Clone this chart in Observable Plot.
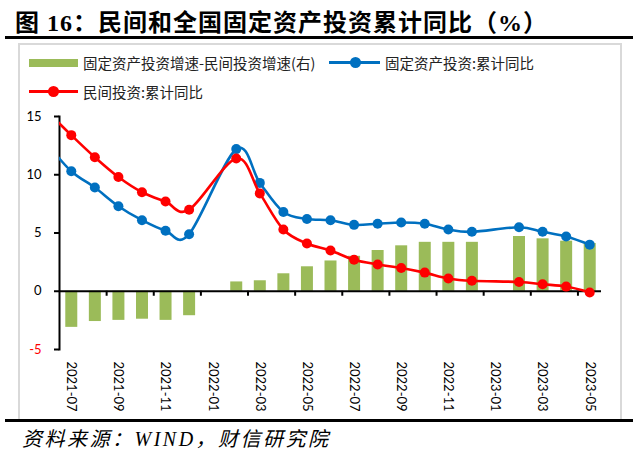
<!DOCTYPE html>
<html>
<head>
<meta charset="utf-8">
<script src="https://cdn.jsdelivr.net/npm/d3@7"></script>
<script src="https://cdn.jsdelivr.net/npm/@observablehq/plot@0.6"></script>
<style>
  html, body { margin: 0; padding: 0; background: #fff; }
  #wrap { position: relative; width: 640px; height: 451px; overflow: hidden; background: #fff; }
  .abs { position: absolute; }
  #title { left: 15px; top: 3px; font: bold 24px "Liberation Serif", "Noto Sans CJK SC", serif; color: #000; white-space: nowrap; letter-spacing: 1px; }
  .rule { background: #000; }
  #frame { left: 18px; top: 43px; width: 600px; height: 374px; border: 2px solid #d9d9d9; }
  .lg { font: 14.5px "Noto Sans CJK SC", sans-serif; color: #222; white-space: nowrap; line-height: 18px; }
  #caption { left: 22px; top: 423px; font: italic 20px "Liberation Serif", "Noto Sans CJK SC", serif; color: #000; white-space: nowrap; letter-spacing: 2.5px; }
  #chart { left: 0; top: 0; }
</style>
</head>
<body>
<div id="wrap">
  <div id="title" class="abs">图 16：民间和全国固定资产投资累计同比（%）</div>
  <div class="abs rule" style="left:5px;top:36px;width:628px;height:3px;"></div>
  <div id="frame" class="abs"></div>
  <div class="abs rule" style="left:5px;top:419px;width:628px;height:3px;"></div>
  <div id="caption" class="abs">资料来源：WIND，财信研究院</div>

  <div class="abs" style="left:29px;top:59px;width:49px;height:8px;background:#9BBB59;"></div>
  <div class="abs lg" style="left:83px;top:54px;">固定资产投资增速-民间投资增速(右)</div>

  <div class="abs" style="left:329px;top:61px;width:51px;height:3px;background:#0070C0;"></div>
  <div class="abs" style="left:350px;top:57px;width:11px;height:11px;border-radius:50%;background:#0070C0;"></div>
  <div class="abs lg" style="left:385px;top:54px;">固定资产投资:累计同比</div>

  <div class="abs" style="left:29px;top:90px;width:49px;height:3px;background:#FF0000;"></div>
  <div class="abs" style="left:48px;top:86px;width:11px;height:11px;border-radius:50%;background:#FF0000;"></div>
  <div class="abs lg" style="left:83px;top:83px;">民间投资:累计同比</div>

  <div id="chart" class="abs"></div>
</div>
<script>
// ---- data ----
const months = ["2021-06","2021-07","2021-08","2021-09","2021-10","2021-11","2021-12",
                "2022-01","2022-02","2022-03","2022-04","2022-05","2022-06","2022-07",
                "2022-08","2022-09","2022-10","2022-11","2022-12","2023-01","2023-02",
                "2023-03","2023-04","2023-05"];
const faiYoY     = [12.6, 10.3, 8.9, 7.3, 6.1, 5.2, 4.9, null, 12.2, 9.3, 6.8, 6.2, 6.1, 5.7, 5.8, 5.9, 5.8, 5.3, 5.1, null, 5.5, 5.1, 4.7, 4.0];
const privateYoY = [15.4, 13.4, 11.5, 9.8, 8.5, 7.7, 7.0, null, 11.4, 8.4, 5.3, 4.1, 3.5, 2.7, 2.3, 2.0, 1.6, 1.1, 0.9, null, 0.8, 0.6, 0.4, -0.1];
const gapBars    = [null, -3.1, -2.6, -2.5, -2.4, -2.5, -2.1, null, 0.8, 0.9, 1.5, 2.1, 2.6, 3.0, 3.5, 3.9, 4.2, 4.2, 4.2, null, 4.7, 4.5, 4.3, 4.1];
const xTickLabels = ["2021-07","2021-09","2021-11","2022-01","2022-03","2022-05",
                     "2022-07","2022-09","2022-11","2023-01","2023-03","2023-05"];
const yTicks = [-5, 0, 5, 10, 15];

const firstShown = months.indexOf("2021-07");
const lastShown = months.indexOf("2023-05");

const toRows = arr => arr.map((v, i) => ({i, m: months[i], v})).filter(d => d.v != null);
const faiRows = toRows(faiYoY);
const privRows = toRows(privateYoY);
const barRows = toRows(gapBars);
const labelRows = xTickLabels.map(m => ({m, i: months.indexOf(m)}));
const boundaryTicks = labelRows.slice(0, -1).map(d => d.i + 1.5);

const green = "#9BBB59", blue = "#0070C0", red = "#FF0000";
const font = "Lato, 'Open Sans', sans-serif";

const chart = Plot.plot({
  width: 640,
  height: 451,
  marginLeft: 59,
  marginRight: 39,
  marginTop: 116,
  marginBottom: 102,
  style: {background: "transparent", fontFamily: font},
  x: {type: "linear", domain: [firstShown - 0.5, lastShown + 0.5], axis: null},
  y: {domain: [-5, 15], axis: null},
  marks: [
    Plot.ruleX(barRows.filter(d => d.i >= firstShown), {x: "i", y1: 0, y2: "v", stroke: green, strokeWidth: 12}),
    Plot.ruleY([0], {stroke: "#000", strokeWidth: 2}),
    Plot.ruleX(boundaryTicks, {x: d => d, y1: 0, y2: 0, insetBottom: -5, stroke: "#000", strokeWidth: 2}),
    Plot.frame({anchor: "left", stroke: "#000", strokeWidth: 2}),
    Plot.ruleY(yTicks, {y: d => d, x1: firstShown - 0.5, x2: firstShown - 0.5, insetLeft: -5, stroke: "#000", strokeWidth: 2}),
    Plot.text(yTicks, {y: d => d, frameAnchor: "left", dx: -18, textAnchor: "end", text: d => String(d),
      fill: d => d < 0 ? red : "#000", fontSize: 13}),
    Plot.text(labelRows, {x: "i", frameAnchor: "bottom", dy: 12, rotate: 90, textAnchor: "start",
      lineAnchor: "middle", text: "m", fill: "#000", fontSize: 13}),
    Plot.line(faiRows, {x: "i", y: "v", stroke: blue, strokeWidth: 2.6, curve: "cardinal", clip: true}),
    Plot.dot(faiRows.filter(d => d.i >= firstShown), {x: "i", y: "v", r: 5, fill: blue}),
    Plot.line(privRows, {x: "i", y: "v", stroke: red, strokeWidth: 2.6, curve: "cardinal", clip: true}),
    Plot.dot(privRows.filter(d => d.i >= firstShown), {x: "i", y: "v", r: 5, fill: red})
  ]
});
document.getElementById("chart").appendChild(chart);
</script>
</body>
</html>
